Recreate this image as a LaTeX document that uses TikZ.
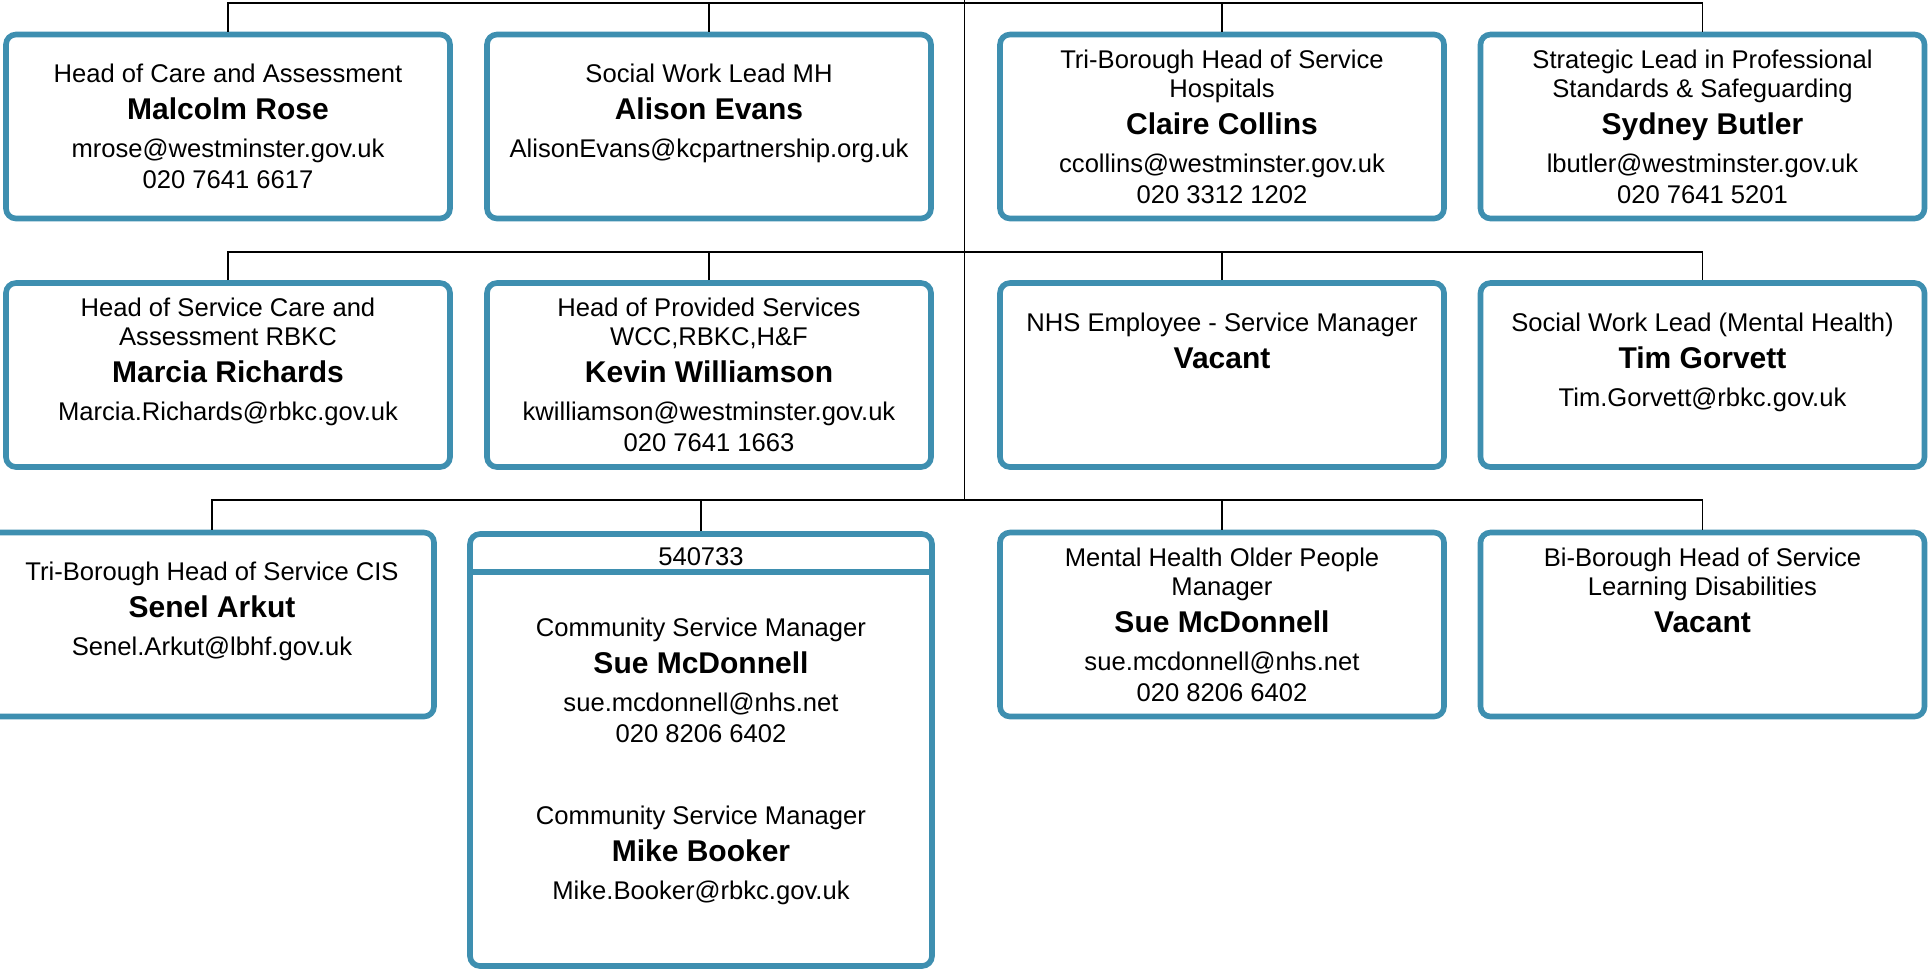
\documentclass[tikz,border=0pt]{standalone}
\usepackage{fontspec}
\setmainfont{Liberation Sans}
\usetikzlibrary{positioning}
\definecolor{cardblue}{RGB}{62,143,176}
\newcommand\who[1]{{\fontsize{15}{18}\selectfont\bfseries #1}}
\newcommand\cardtext[4]{\rule{0pt}{13.5pt}#1\\[4.2pt]\who{#2}\\[4.7pt]#3\strut\\[1.2pt]#4\strut}

\begin{document}
\begin{tikzpicture}[x=0.5pt,y=-0.5pt,
    card/.style={draw=cardblue, line width=2.8pt, rounded corners=5pt, fill=white,
      minimum width=222pt, minimum height=92pt, inner sep=0pt, align=center,
      font=\fontsize{12.8}{14.3}\selectfont},
    plain/.style={align=center, inner sep=0pt, font=\fontsize{12.8}{14.3}\selectfont},
    link/.style={line width=0.85pt}]
    \useasboundingbox (0,0) rectangle (1929,970);

    \coordinate (top) at (964.5,0);
    \coordinate (bus1) at (964.5,3);
    \coordinate (bus2) at (964.5,252);
    \coordinate (bus3) at (964.5,500);

    % first row
    \node[card] (rose) at (228,126.5) {\cardtext{Head of Care and Assessment}{Malcolm Rose}{mrose@westminster.gov.uk}{020 7641 6617}};
    \node[card] (evans) at (709,126.5) {\cardtext{Social Work Lead MH}{Alison Evans}{AlisonEvans@kcpartnership.org.uk}{}};
    \node[card] (collins) at (1222,126.5) {\cardtext{Tri-Borough Head of Service\\Hospitals}{Claire Collins}{ccollins@westminster.gov.uk}{020 3312 1202}};
    \node[card] (butler) at (1702.5,126.5) {\cardtext{Strategic Lead in Professional\\Standards \& Safeguarding}{Sydney Butler}{lbutler@westminster.gov.uk}{020 7641 5201}};

    % second row
    \node[card] (richards) at (228,375) {\cardtext{Head of Service Care and\\Assessment RBKC}{Marcia Richards}{Marcia.Richards@rbkc.gov.uk}{}};
    \node[card] (williamson) at (709,375) {\cardtext{Head of Provided Services\\WCC,RBKC,H\&F}{Kevin Williamson}{kwilliamson@westminster.gov.uk}{020 7641 1663}};
    \node[card] (nhs) at (1222,375) {\cardtext{NHS Employee - Service Manager}{Vacant}{}{}};
    \node[card] (gorvett) at (1702.5,375) {\cardtext{Social Work Lead (Mental Health)}{Tim Gorvett}{Tim.Gorvett@rbkc.gov.uk}{}};

    % third row
    \node[card] (arkut) at (212,624.5) {\cardtext{Tri-Borough Head of Service CIS}{Senel Arkut}{Senel.Arkut@lbhf.gov.uk}{}};
    \node[card, minimum width=231pt, minimum height=216pt] (community) at (701,750) {};
    \node[card] (olderpeople) at (1222,624.5) {\cardtext{Mental Health Older People\\Manager}{Sue McDonnell}{sue.mcdonnell@nhs.net}{020 8206 6402}};
    \node[card] (ld) at (1702.5,624.5) {\cardtext{Bi-Borough Head of Service\\Learning Disabilities}{Vacant}{}{}};

    % the shared box
    \coordinate (hdr) at (701,572);
    \node[plain] (code) at (701,557) {540733};
    \draw[draw=cardblue, line width=2.8pt] (community.west |- hdr) -- (community.east |- hdr);
    \node[plain] (mcdonnell) at (701,680.5) {\cardtext{Community Service Manager}{Sue McDonnell}{sue.mcdonnell@nhs.net}{020 8206 6402}};
    \node[plain] (booker) at (701,868) {\cardtext{Community Service Manager}{Mike Booker}{Mike.Booker@rbkc.gov.uk}{}};

    % lines
    \draw[link] (top) -- (bus3);
    \draw[link] (rose.north) |- (bus1) -| (butler.north);
    \draw[link] (evans.north) -- (evans.north |- bus1);
    \draw[link] (collins.north) -- (collins.north |- bus1);
    \draw[link] (richards.north) |- (bus2) -| (gorvett.north);
    \draw[link] (williamson.north) -- (williamson.north |- bus2);
    \draw[link] (nhs.north) -- (nhs.north |- bus2);
    \draw[link] (arkut.north) |- (bus3) -| (ld.north);
    \draw[link] (community.north) -- (community.north |- bus3);
    \draw[link] (olderpeople.north) -- (olderpeople.north |- bus3);
\end{tikzpicture}
\end{document}
